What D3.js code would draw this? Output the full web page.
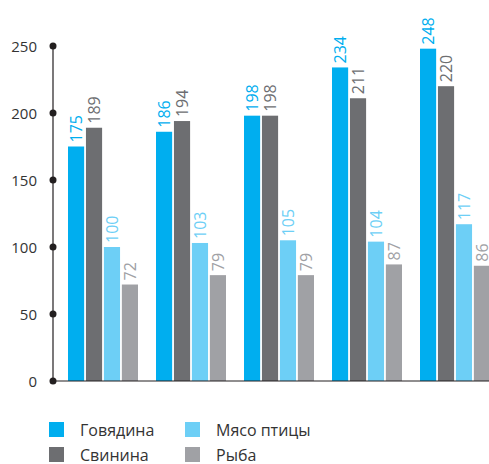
<!DOCTYPE html>
<html>
<head>
<meta charset="utf-8">
<script src="https://cdn.jsdelivr.net/npm/d3@7"></script>
<style>
  body { margin: 0; background: #fff; }
  text { font-family: "Open Sans", "Noto Sans", sans-serif; }
</style>
</head>
<body>
<script>
// Chart data
const groups = ["1", "2", "3", "4", "5"];
const seriesNames = ["Говядина", "Свинина", "Мясо птицы", "Рыба"];
const seriesColors = ["#00aeef", "#6d6e71", "#6dcff6", "#a0a1a5"];
const beef = [175, 186, 198, 234, 248];
const pork = [189, 194, 198, 211, 220];
const poultry = [100, 103, 105, 104, 117];
const fish = [72, 79, 79, 87, 86];
const yTicks = [0, 50, 100, 150, 200, 250];

const series = [beef, pork, poultry, fish];
const width = 489, height = 464;

const svg = d3.select("body").append("svg")
    .attr("width", width)
    .attr("height", height);

const y = d3.scaleLinear().domain([0, 250]).range([381, 46]);

const x0 = d3.scaleBand()
    .domain(groups)
    .range([59, 499])
    .paddingInner(18 / 88)
    .paddingOuter(9 / 88);

const x1 = d3.scaleBand()
    .domain(d3.range(series.length))
    .range([0, x0.bandwidth()])
    .paddingInner(0.1)
    .paddingOuter(0);

// Bars and value labels
groups.forEach((g, gi) => {
    series.forEach((vals, si) => {
        const v = vals[gi];
        const bx = x0(g) + x1(si);
        svg.append("rect")
            .attr("x", bx)
            .attr("y", y(v))
            .attr("width", x1.bandwidth())
            .attr("height", y(0) - y(v))
            .attr("fill", seriesColors[si]);
        const cx = bx + x1.bandwidth() / 2;
        const ty = y(v) - 4;
        svg.append("text")
            .attr("transform", `translate(${cx},${ty}) rotate(-90)`)
            .attr("dominant-baseline", "central")
            .attr("text-anchor", "start")
            .attr("font-size", 16)
            .attr("fill", seriesColors[si])
            .text(v);
    });
});

// Axes
svg.append("line")
    .attr("x1", 53).attr("x2", 53)
    .attr("y1", y(250)).attr("y2", y(0))
    .attr("stroke", "#231f20").attr("stroke-width", 1.2);
svg.append("line")
    .attr("x1", 53).attr("x2", width)
    .attr("y1", y(0)).attr("y2", y(0))
    .attr("stroke", "#231f20").attr("stroke-width", 1.2);

yTicks.forEach(t => {
    svg.append("circle")
        .attr("cx", 53).attr("cy", y(t)).attr("r", 3.5)
        .attr("fill", "#231f20");
    svg.append("text")
        .attr("x", 37).attr("y", y(t))
        .attr("text-anchor", "end")
        .attr("dominant-baseline", "central")
        .attr("font-size", 15)
        .attr("fill", "#333")
        .text(t);
});

// Legend
const legendPos = [[49, 422], [49, 447], [185, 422], [185, 447]];
seriesNames.forEach((name, si) => {
    const [lx, ly] = legendPos[si];
    svg.append("rect")
        .attr("x", lx).attr("y", ly)
        .attr("width", 15).attr("height", 15)
        .attr("fill", seriesColors[si]);
    svg.append("text")
        .attr("x", lx + 31).attr("y", ly + 7.5)
        .attr("dominant-baseline", "central")
        .attr("font-size", 16)
        .attr("fill", "#333")
        .text(name);
});
</script>
</body>
</html>
